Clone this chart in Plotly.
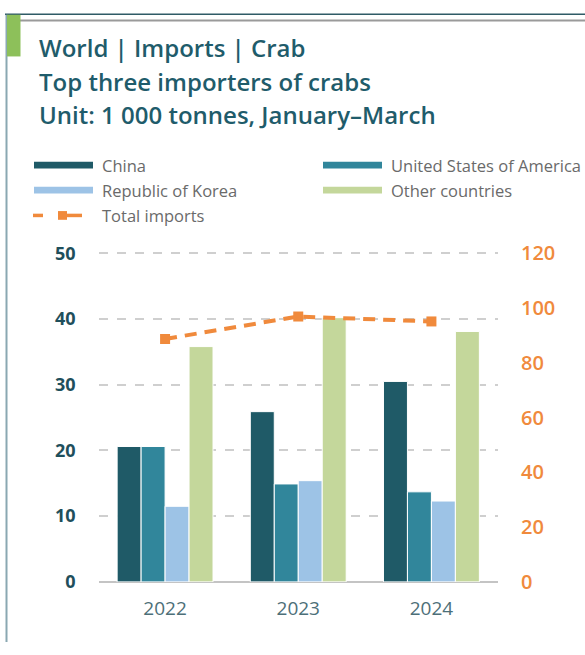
import plotly.graph_objects as go

years = ["2022", "2023", "2024"]
china = [20.6, 25.9, 30.5]
usa = [20.6, 14.9, 13.7]
korea = [11.5, 15.4, 12.3]
other = [35.8, 40.2, 38.1]
total = [88.7, 96.9, 95.1]

series_names = ["China", "United States of America", "Republic of Korea", "Other countries"]
series_vals = [china, usa, korea, other]
series_cols = ["#1f5a67", "#31869b", "#9dc3e6", "#c4d79b"]
orange = "#f08a3c"

W, H = 585, 655
def px(x):
    return x / W
def py(y):
    return 1 - y / H

fig = go.Figure()
for name, vals, col in zip(series_names, series_vals, series_cols):
    fig.add_trace(go.Bar(x=years, y=vals, name=name, marker=dict(color=col, line=dict(color="white", width=1)),
                         showlegend=False))
fig.add_trace(go.Scatter(x=years, y=total, name="Total imports", yaxis="y2", mode="lines+markers",
                         line=dict(color=orange, width=4, dash="12px,8px"),
                         marker=dict(symbol="square", size=10, color=orange), showlegend=False))

shapes = []
annotations = []
# frame
shapes.append(dict(type="line", xref="paper", yref="paper", x0=px(5), x1=px(585), y0=py(7.5), y1=py(7.5),
                   line=dict(color="#2f5b66", width=1.5)))
shapes.append(dict(type="line", xref="paper", yref="paper", x0=px(20), x1=px(585), y0=py(14), y1=py(14),
                   line=dict(color="#9a9a9a", width=2)))
shapes.append(dict(type="line", xref="paper", yref="paper", x0=px(6.5), x1=px(6.5), y0=py(8), y1=py(655),
                   line=dict(color="#8aa8b2", width=2)))
shapes.append(dict(type="rect", xref="paper", yref="paper", x0=px(7), x1=px(20.5), y0=py(8), y1=py(51),
                   fillcolor="#8dc05a", line=dict(width=0)))

# titles
title_col = "#1f5c6b"
for txt, yc in [("World | Imports | Crab", 42), ("Top three importers of crabs", 77),
                ("Unit: 1 000 tonnes, January\u2013March", 111)]:
    annotations.append(dict(text=txt, xref="paper", yref="paper", x=px(37), y=py(yc), xanchor="left",
                            yanchor="middle", showarrow=False,
                            font=dict(family="Open Sans", size=24, color=title_col, weight=600)))

# legend
leg_font = dict(family="Open Sans", size=16.5, color="#6a6a6a")
leg_items = [(series_names[0], series_cols[0], 34, 93, 100, 163),
             (series_names[1], series_cols[1], 323, 382, 389, 163),
             (series_names[2], series_cols[2], 34, 93, 100, 189),
             (series_names[3], series_cols[3], 323, 382, 389, 189)]
for name, col, x0, x1, tx, yc in leg_items:
    shapes.append(dict(type="rect", xref="paper", yref="paper", x0=px(x0), x1=px(x1), y0=py(yc - 3.5),
                       y1=py(yc + 3.5), fillcolor=col, line=dict(width=0)))
    annotations.append(dict(text=name, xref="paper", yref="paper", x=px(tx), y=py(yc), xanchor="left",
                            yanchor="middle", showarrow=False, font=leg_font))
yc = 215
shapes.append(dict(type="line", xref="paper", yref="paper", x0=px(33), x1=px(43), y0=py(yc), y1=py(yc),
                   line=dict(color=orange, width=3.5)))
shapes.append(dict(type="line", xref="paper", yref="paper", x0=px(58), x1=px(82), y0=py(yc), y1=py(yc),
                   line=dict(color=orange, width=3.5)))
shapes.append(dict(type="rect", xref="paper", yref="paper", x0=px(58), x1=px(67), y0=py(yc - 4.5),
                   y1=py(yc + 4.5), fillcolor=orange, line=dict(width=0)))
annotations.append(dict(text="Total imports", xref="paper", yref="paper", x=px(100), y=py(yc), xanchor="left",
                        yanchor="middle", showarrow=False, font=leg_font))

# plot area: 0 at 593px, 50 (left) / 120 (right) at 254px; extend a little above for the top gridline
y0_px, y50_px = 593, 254
unit = (y0_px - y50_px) / 50.0
left_max = 51.0
top_px = y0_px - unit * left_max
right_max = 120 * left_max / 50

fig.update_layout(
    width=W, height=H, autosize=False,
    margin=dict(l=0, r=0, t=0, b=0),
    paper_bgcolor="white", plot_bgcolor="white",
    barmode="group", bargap=0.28, bargroupgap=0,
    shapes=shapes, annotations=annotations,
    xaxis=dict(domain=[px(98.5), px(498)], type="category", showgrid=False, showline=False,
               ticks="", ticklabelstandoff=13,
               tickfont=dict(family="Open Sans", size=19, color="#4d6f78")),
    yaxis=dict(domain=[py(y0_px), py(top_px)], range=[0, left_max], tickvals=[0, 10, 20, 30, 40, 50],
               showgrid=True, gridcolor="#cfcfcf", griddash="dash", gridwidth=1.5,
               zeroline=True, zerolinecolor="#c4c4c4", zerolinewidth=1.5, showline=False,
               ticks="", ticklabelstandoff=22,
               tickfont=dict(family="Open Sans", size=18, color="#1f4f5c", weight="bold")),
    yaxis2=dict(overlaying="y", side="right", range=[0, right_max], tickvals=[0, 20, 40, 60, 80, 100, 120],
                showgrid=False, zeroline=False, showline=False, ticks="", ticklabelstandoff=22,
                tickfont=dict(family="Open Sans", size=20, color=orange, weight=600)),
    font=dict(family="Open Sans"),
)

fig.write_html("out.html")
